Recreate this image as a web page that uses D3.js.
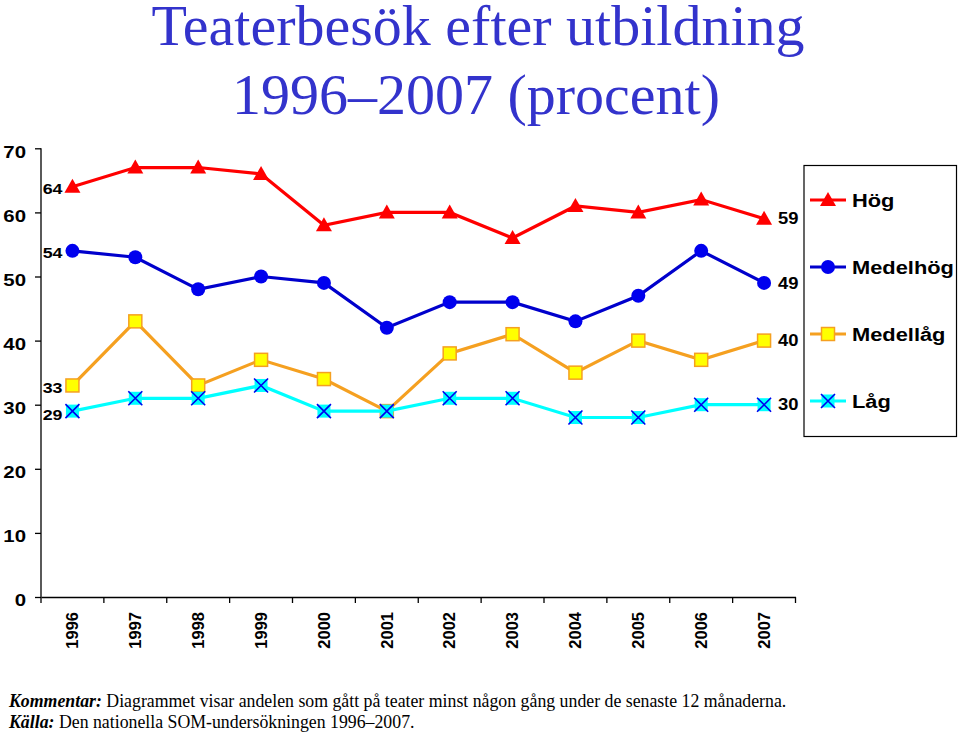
<!DOCTYPE html>
<html><head><meta charset="utf-8">
<script src="https://cdn.jsdelivr.net/npm/d3@7"></script>
<style>body{margin:0;background:#fff}svg{display:block}</style>
</head><body>
<script>
const years = ["1996","1997","1998","1999","2000","2001","2002","2003","2004","2005","2006","2007"];
const hog = [64,67,67,66,58,60,60,56,61,60,62,59];
const medelhog = [54,53,48,50,49,42,46,46,43,47,54,49];
const medellag = [33,43,33,37,34,29,38,41,35,40,37,40];
const lag = [29,31,31,33,29,29,31,31,28,28,30,30];
const seriesNames = ["Hög","Medelhög","Medellåg","Låg"];
const yTicks = [0,10,20,30,40,50,60,70];

const W=960,H=737;
const svg=d3.select("body").append("svg").attr("width",W).attr("height",H);
const x=d3.scaleBand().domain(years).range([41,795.5]);
const y=d3.scaleLinear().domain([0,70]).range([597,148.3]);
const SANS="Liberation Sans, Arial, sans-serif";
const SERIF="Liberation Serif, Times New Roman, serif";

const series=[
 {name:seriesNames[0],data:hog,stroke:"#ff0000",marker:"tri"},
 {name:seriesNames[1],data:medelhog,stroke:"#0000cc",marker:"circ"},
 {name:seriesNames[2],data:medellag,stroke:"#f5a020",marker:"sq"},
 {name:seriesNames[3],data:lag,stroke:"#00ffff",marker:"x"}
];

// title
svg.append("text").attr("x",478).attr("y",45).attr("text-anchor","middle")
 .attr("font-family",SERIF).attr("font-size",58).attr("fill","#3333cc").text("Teaterbesök efter utbildning");
svg.append("text").attr("x",476).attr("y",114).attr("text-anchor","middle")
 .attr("font-family",SERIF).attr("font-size",58).attr("fill","#3333cc").text("1996–2007 (procent)");

// axes
const yAx=svg.append("g").attr("transform","translate(41,0)")
 .call(d3.axisLeft(y).tickValues(yTicks).tickSize(6).tickFormat(d3.format("d")));
yAx.select(".domain").attr("stroke","#000").attr("stroke-width",1.3).attr("d","M-0,148.3V597");
yAx.selectAll("line").attr("stroke","#000").attr("stroke-width",1.3);
yAx.selectAll("text").attr("font-family",SANS).attr("font-weight","bold")
 .attr("font-size",17).attr("fill","#000").attr("x",0).attr("dy","0.35em")
 .attr("transform","translate(-15,3) scale(1.2,1)");

const xAx=svg.append("g").attr("transform","translate(0,597)")
 .call(d3.axisBottom(x).tickSize(0).tickSizeOuter(0));
xAx.select(".domain").attr("stroke","#000").attr("stroke-width",1.3);
xAx.selectAll(".tick line").remove();
const bounds=years.map(d=>x(d)).concat([x.range()[1]]);
svg.append("g").selectAll("line").data(bounds).join("line")
 .attr("x1",d=>d).attr("x2",d=>d).attr("y1",597).attr("y2",603).attr("stroke","#000").attr("stroke-width",1.3);
xAx.selectAll("text").attr("font-family",SANS).attr("font-weight","bold")
 .attr("font-size",16.5).attr("fill","#000")
 .attr("transform","rotate(-90)").attr("text-anchor","end").attr("x",-15).attr("y",0).attr("dy","0.35em");

const cx=d=>x(d)+x.bandwidth()/2;

function drawMarker(g,type,px,py){
 if(type==="tri"){
  g.append("path").attr("d",`M${px},${py-8}L${px+8},${py+6}L${px-8},${py+6}Z`).attr("fill","#ff0000");
 }else if(type==="circ"){
  g.append("circle").attr("cx",px).attr("cy",py).attr("r",7).attr("fill","#0000ee");
 }else if(type==="sq"){
  g.append("rect").attr("x",px-6.5).attr("y",py-6.5).attr("width",13).attr("height",13)
   .attr("fill","#ffff00").attr("stroke","#f5a020").attr("stroke-width",1.5);
 }else{
  g.append("rect").attr("x",px-6.5).attr("y",py-6.5).attr("width",13).attr("height",13).attr("fill","#00ffff");
  g.append("path").attr("d",`M${px-7},${py-7}L${px+7},${py+7}M${px+7},${py-7}L${px-7},${py+7}`)
   .attr("stroke","#0000ee").attr("stroke-width",1.6);
 }
}

const line=d3.line().x((d,i)=>cx(years[i])).y(d=>y(d));
series.forEach(s=>{
 svg.append("path").datum(s.data).attr("d",line).attr("fill","none").attr("stroke",s.stroke).attr("stroke-width",3.2);
 const g=svg.append("g");
 s.data.forEach((v,i)=>drawMarker(g,s.marker,cx(years[i]),y(v)));
 const x0=cx(years[0])-10, y0=y(s.data[0])+(s.marker==="x"?3.5:2);
 svg.append("text").attr("text-anchor","end").attr("dy","0.35em")
  .attr("transform",`translate(${x0},${y0}) scale(1.15,1)`)
  .attr("font-family",SANS).attr("font-weight","bold").attr("font-size",15.5).attr("fill","#000").text(s.data[0]);
 const x1=cx(years[11])+14, y1=y(s.data[11]);
 svg.append("text").attr("text-anchor","start").attr("dy","0.35em")
  .attr("transform",`translate(${x1},${y1}) scale(1.15,1)`)
  .attr("font-family",SANS).attr("font-weight","bold").attr("font-size",16).attr("fill","#000").text(s.data[11]);
});

// legend
svg.append("rect").attr("x",804).attr("y",165.5).attr("width",152.5).attr("height",271).attr("fill","#fff").attr("stroke","#000").attr("stroke-width",1.2);
const lg=svg.append("g");
const ly=[200,267,334,401];
series.forEach((s,i)=>{
 lg.append("line").attr("x1",810).attr("x2",846).attr("y1",ly[i]).attr("y2",ly[i]).attr("stroke",s.stroke).attr("stroke-width",3.2);
 drawMarker(lg,s.marker,828,ly[i]);
 lg.append("text").attr("transform",`translate(852,${ly[i]+7}) scale(1.15,1)`).attr("font-family",SANS)
  .attr("font-weight","bold").attr("font-size",19).attr("fill","#000").text(s.name);
});

// footer
const f1=svg.append("text").attr("x",9).attr("y",707).attr("font-family",SERIF).attr("font-size",17.8).attr("fill","#000");
f1.append("tspan").attr("font-weight","bold").attr("font-style","italic").text("Kommentar:");
f1.append("tspan").text(" Diagrammet visar andelen som gått på teater minst någon gång under de senaste 12 månaderna.");
const f2=svg.append("text").attr("x",9).attr("y",728).attr("font-family",SERIF).attr("font-size",17.8).attr("fill","#000");
f2.append("tspan").attr("font-weight","bold").attr("font-style","italic").text("Källa:");
f2.append("tspan").text(" Den nationella SOM-undersökningen 1996–2007.");
</script>
</body></html>
